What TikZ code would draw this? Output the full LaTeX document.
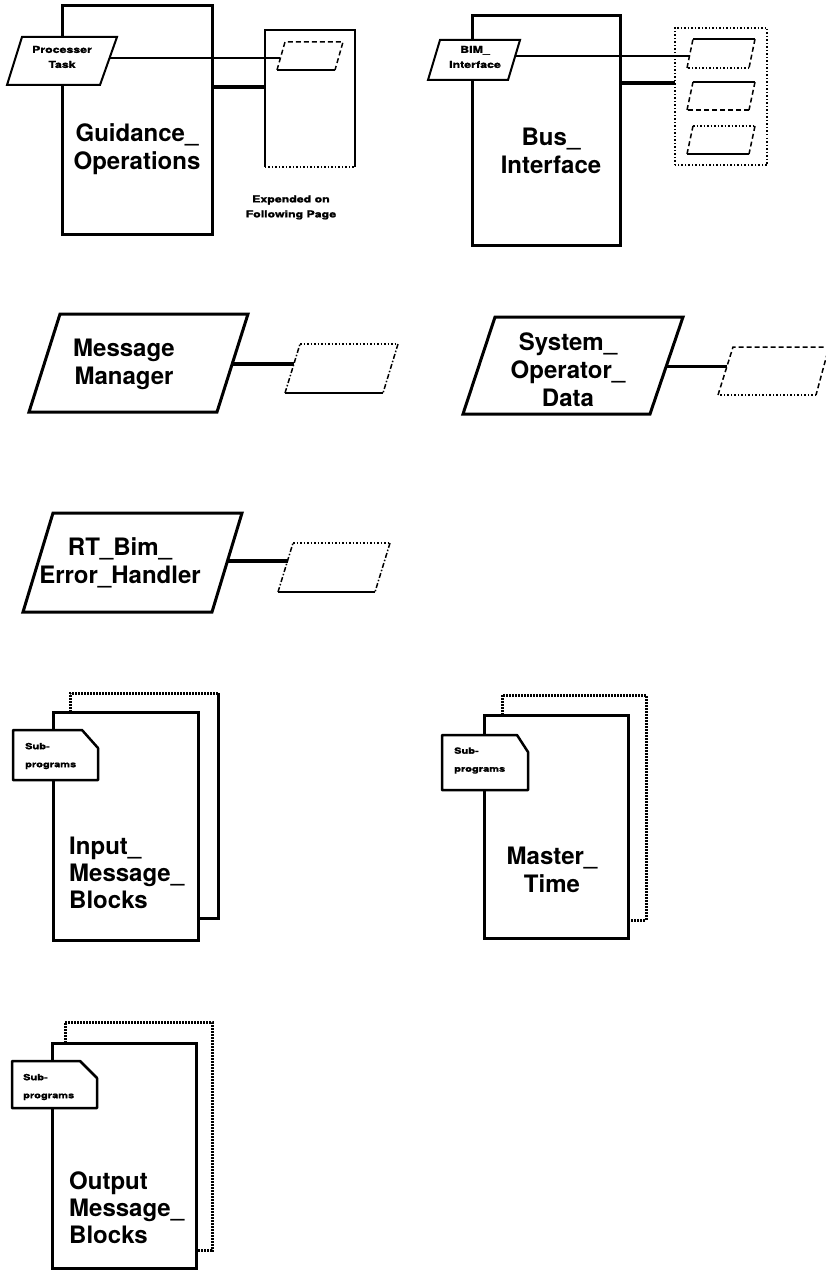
\documentclass[tikz,border=0pt]{standalone}
\usepackage{fontspec}
\setmainfont{TeX Gyre Heros}
\newfontfamily\widefont[FakeStretch=1.3,FakeBold=1.2]{TeX Gyre Heros}
\usetikzlibrary{calc}
\begin{document}
\begin{tikzpicture}[x=1pt,y=-1pt,
  box/.style={draw, line width=3pt, fill=white, inner sep=0},
  para/.style={draw, line width=3pt, fill=white, line join=miter},
  tpara/.style={draw, line width=2pt, fill=white},
  big/.style={font=\bfseries\fontsize{24}{28}\selectfont, align=center, inner sep=0},
  bigl/.style={font=\bfseries\fontsize{24}{27}\selectfont, align=left, inner sep=0},
  small/.style={font=\widefont\bfseries\fontsize{9.5}{15}\selectfont, align=center, inner sep=0},
  smalll/.style={font=\widefont\bfseries\fontsize{8.5}{18}\selectfont, align=left, inner sep=0, anchor=west},
  thinc/.style={line width=1.8pt},
  thickc/.style={line width=4pt},
  solidedge/.style={line width=1.5pt},
  dashedge/.style={line width=1.5pt, dash pattern=on 5pt off 3pt},
  dotedge/.style={line width=1.5pt, dash pattern=on 1.5pt off 2pt},
  dashdot/.style={line width=1.5pt, dash pattern=on 5pt off 2pt on 1.5pt off 2pt},
  backedge/.style={line width=3pt, dash pattern=on 2pt off 1pt},
  tab/.style={draw, line width=2.5pt, fill=white, line join=round}
]
\useasboundingbox (0,0) rectangle (826,1271);

% ================= Guidance_Operations =================
\node[box, minimum width=150, minimum height=228] (guid) at (137,120) {};
\node[minimum width=90, minimum height=137, inner sep=0] (gexp) at (310,98.5) {};
\draw[solidedge] (gexp.south west) -- (gexp.north west) -- (gexp.north east) -- (gexp.south east);
\draw[dotedge] (gexp.south west) -- (gexp.south east);
% small parallelogram inside
\coordinate (g1a) at (285,42); \coordinate (g1b) at (343,42);
\coordinate (g1c) at (335,70); \coordinate (g1d) at (277,70);
\draw[dashedge] (g1d) -- (g1a) -- (g1b) -- (g1c);
\draw[solidedge] (g1c) -- (g1d);
% connectors
\coordinate (gy) at (0,87);
\draw[thickc] (guid.east |- gy) -- (gexp.west |- gy);
\draw[tpara] (22,37) -- (117,37) -- (100,85) -- (7,85) -- cycle;
\node[small] (ptask) at (62,57) {Processer\\Task};
\coordinate (ptaskR) at (109.6,58);
\coordinate (g1L) at (280.4,58);
\draw[thinc] (ptaskR) -- (g1L);
\node[big] (guidtxt) at (137,149) {Guidance\_\\Operations};
\node[small] (exptxt) at (291,207.5) {Expended on\\Following Page};

% ================= Bus_Interface =================
\node[box, minimum width=148, minimum height=229] (bus) at (546,130.5) {};
\node[minimum width=92, minimum height=137, inner sep=0] (bexp) at (721,96.5) {};
\draw[dotedge] (bexp.south west) rectangle (bexp.north east);
% three small parallelograms
\foreach \t/\b/\ts/\bs [count=\i] in {39/68/solidedge/dotedge, 82/110/solidedge/dashedge, 126/154/dotedge/solidedge}{
  \coordinate (bp\i a) at (693,\t); \coordinate (bp\i b) at (755,\t);
  \coordinate (bp\i c) at (749,\b); \coordinate (bp\i d) at (687,\b);
  \draw[\ts] (bp\i a) -- (bp\i b);
  \draw[dashedge] (bp\i b) -- (bp\i c);
  \draw[\bs] (bp\i c) -- (bp\i d);
  \draw[dashedge] (bp\i d) -- (bp\i a);
}
\coordinate (by) at (0,83);
\draw[thickc] (bus.east |- by) -- (bexp.west |- by);
\draw[tpara] (440,40) -- (520,40) -- (508,80) -- (428,80) -- cycle;
\node[small] (bim) at (475,57) {BIM\_\\Interface};
\coordinate (bimR) at (515.2,56);
\coordinate (bp1L) at (689.5,56);
\draw[thinc] (bimR) -- (bp1L);
\node[big] (bustxt) at (551,151) {Bus\_\\Interface};

% ================= Message Manager =================
\draw[para] (60,314) -- (248,314) -- (217,412) -- (29,412) -- cycle;
\node[big] (mm) at (124,364) {Message\\Manager};
\coordinate (mmR) at (232.2,364);
\coordinate (ma) at (300,344); \coordinate (mb) at (398,344);
\coordinate (mc) at (383,393); \coordinate (md) at (285,393);
\draw[dotedge] (ma) -- (mb);
\draw[dashdot] (mb) -- (mc);
\draw[solidedge] (mc) -- (md);
\draw[dashdot] (md) -- (ma);
\coordinate (mL) at (293.9,364);
\draw[thickc] (mmR) -- (mL);

% ================= System_Operator_Data =================
\draw[para] (495,317) -- (683,317) -- (650,414) -- (463,414) -- cycle;
\node[big] (sod) at (568,370) {System\_\\Operator\_\\Data};
\coordinate (sodR) at (666.3,366);
\coordinate (sa) at (733,347); \coordinate (sb) at (829,347);
\coordinate (sc) at (816,395); \coordinate (sd) at (718,395);
\draw[dashedge] (sd) -- (sa) -- (sb) -- (sc);
\draw[dotedge] (sc) -- (sd);
\coordinate (sL) at (727,366);
\draw[line width=3pt] (sodR) -- (sL);

% ================= RT_Bim_Error_Handler =================
\draw[para] (53,513) -- (242,513) -- (212,612) -- (23,612) -- cycle;
\node[big] (rt) at (120,562.5) {RT\_Bim\_\\Error\_Handler};
\coordinate (rtR) at (227.5,561);
\coordinate (ra) at (293,543); \coordinate (rb) at (390,543);
\coordinate (rc) at (375,592); \coordinate (rd) at (278,592);
\draw[dotedge] (ra) -- (rb);
\draw[dashdot] (rb) -- (rc);
\draw[solidedge] (rc) -- (rd);
\draw[dashdot] (rd) -- (ra);
\coordinate (rL) at (287.5,561);
\draw[thickc] (rtR) -- (rL);

% ================= Input_Message_Blocks =================
\draw[backedge] (218,693) -- (70,693) -- (70,712);
\draw[line width=3pt] (218,693) -- (218,918) -- (198,918);
\node[box, minimum width=145, minimum height=228] (imb) at (125.5,826) {};
\draw[tab] (13,730) -- (82,730) -- (98,748) -- (98,780) -- (13,780) -- cycle;
\node[smalll] (imbsub) at (25,756) {Sub-\\programs};
\node[bigl, anchor=west] (imbtxt) at (69,873) {Input\_\\Message\_\\Blocks};

% ================= Master_Time =================
\draw[backedge] (502,715) -- (502,695) -- (646,695) -- (646,920) -- (628,920);
\node[box, minimum width=144, minimum height=223] (mt) at (556,826.5) {};
\draw[tab] (442,735) -- (517,735) -- (528,752) -- (528,790) -- (442,790) -- cycle;
\node[smalll] (mtsub) at (454,760.5) {Sub-\\programs};
\node[big] (mttxt) at (552,870) {Master\_\\Time};

% ================= Output Message_Blocks =================
\draw[backedge] (65,1043) -- (65,1022) -- (212,1022) -- (212,1250) -- (196,1250);
\node[box, minimum width=144, minimum height=225] (omb) at (124,1155.5) {};
\draw[tab] (12,1061) -- (80,1061) -- (97,1078) -- (97,1108) -- (12,1108) -- cycle;
\node[smalll] (ombsub) at (23,1087) {Sub-\\programs};
\node[bigl, anchor=west] (ombtxt) at (69,1208) {Output\\Message\_\\Blocks};
\end{tikzpicture}
\end{document}
